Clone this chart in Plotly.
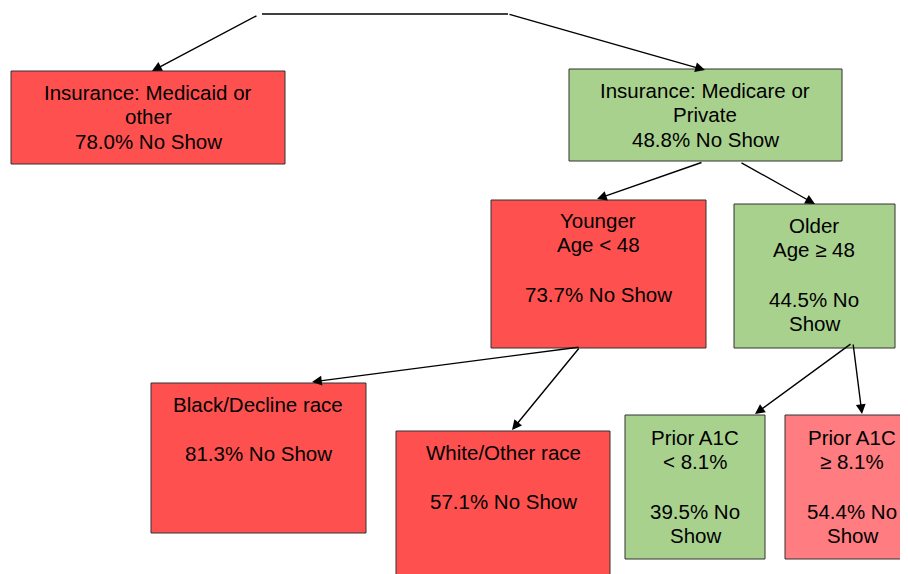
import plotly.graph_objects as go

# ---- data ----
node_labels = [
    "Insurance: Medicaid or<br>other",
    "Insurance: Medicare or<br>Private",
    "Younger<br>Age &lt; 48",
    "Older<br>Age ≥ 48",
    "Black/Decline race",
    "White/Other race",
    "Prior A1C<br>&lt; 8.1%",
    "Prior A1C<br>≥ 8.1%",
]
no_show_pct = [78.0, 48.8, 73.7, 44.5, 81.3, 57.1, 39.5, 54.4]
parents = [None, None, 1, 1, 2, 2, 3, 3]

# ---- layout / style (pixel space of the screenshot) ----
boxes = [  # x0, y0, x1, y1
    (11, 71, 285, 164),
    (569, 69, 842, 161),
    (491, 200, 706, 348),
    (734, 204, 895, 348),
    (151, 383, 366, 533),
    (396, 431, 610, 590),
    (625, 415, 765, 559),
    (785, 415, 920, 559),
]
text_cx = [148, 705, 598, 814, 258, 503, 695, 852]
first_line_y = [92, 90, 220, 225, 404, 452, 437, 437]
line_step = 24.7
blank_line = [False, False, True, True, True, True, True, True]
wrap_pct = [False, False, False, True, False, False, True, True]
fill_colors = ["#FF5050", "#A9D18E", "#FF5050", "#A9D18E",
               "#FF5050", "#FF5050", "#A9D18E", "#FF7C80"]
# arrows: (tail x, tail y, head x, head y)
arrow_paths = [
    (258, 15, 152, 71),
    (508, 14, 705, 70),
    (703, 162, 597, 199),
    (740, 162, 815, 204),
    (580, 347, 312, 382),
    (580, 347, 512, 430),
    (852, 343, 755, 414),
    (853, 343, 862, 414),
]
OFF = 8  # page body margin offset
W, H = 908, 574

fig = go.Figure()
fig.add_trace(go.Scatter(x=[OFF, W], y=[OFF, H], mode="markers",
                         marker=dict(opacity=0), hoverinfo="skip", showlegend=False))

# root line
fig.add_shape(type="line", x0=262, y0=14, x1=508, y1=14,
              line=dict(color="black", width=1.3))

for i, lab in enumerate(node_labels):
    x0, y0, x1, y1 = boxes[i]
    fig.add_shape(type="rect", x0=x0, y0=y0, x1=x1, y1=y1,
                  fillcolor=fill_colors[i], line=dict(color="#333333", width=1), layer="below")
    lines = lab.split("<br>")
    if blank_line[i]:
        lines.append("")
    pct = f"{no_show_pct[i]:.1f}%"
    if wrap_pct[i]:
        lines += [pct + " No", "Show"]
    else:
        lines += [pct + " No Show"]
    for k, ln in enumerate(lines):
        if not ln:
            continue
        fig.add_annotation(x=text_cx[i], y=first_line_y[i] + k * line_step,
                           xref="x", yref="y", text=ln, showarrow=False,
                           xanchor="center", yanchor="middle", align="center",
                           font=dict(family="Liberation Sans, Arial", size=20.5, color="black"))

for (tx, ty, hx, hy) in arrow_paths:
    fig.add_annotation(x=hx, y=hy, ax=tx, ay=ty, xref="x", yref="y", axref="x", ayref="y",
                       text="", showarrow=True, arrowhead=2, arrowsize=1.4,
                       arrowwidth=1.4, arrowcolor="black", standoff=0)

fig.update_layout(
    width=W - OFF, height=H - OFF,
    margin=dict(l=0, r=0, t=0, b=0),
    paper_bgcolor="white", plot_bgcolor="white",
    xaxis=dict(range=[OFF, W], visible=False, fixedrange=True),
    yaxis=dict(range=[H, OFF], visible=False, fixedrange=True),
    showlegend=False,
)
fig.write_html("out.html")
